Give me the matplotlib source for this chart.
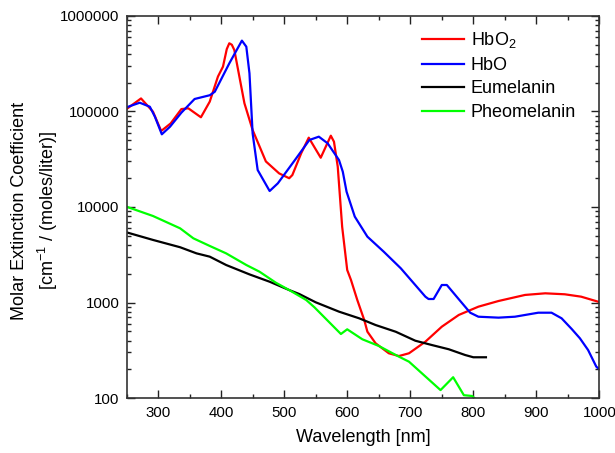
import numpy as np
import matplotlib
matplotlib.use('Agg')
import matplotlib.pyplot as plt
from matplotlib.ticker import FixedLocator, LogLocator, FuncFormatter, NullFormatter

plt.rcParams['font.family'] = ['Liberation Sans', 'DejaVu Sans']
plt.rcParams['mathtext.fontset'] = 'custom'
plt.rcParams['mathtext.rm'] = 'Liberation Sans'
plt.rcParams['mathtext.it'] = 'Liberation Sans'

# HbO2 (oxyhemoglobin)
hbo2_wl = [250, 273, 292, 305, 320, 337, 348, 368, 382, 395, 403, 409, 413, 417, 421, 437, 450,
           471, 492, 508, 513, 527, 539, 558, 574, 579, 585, 592, 600, 606, 616, 627,
           632, 645, 666, 682, 698, 724, 750, 777, 808, 840, 882, 914, 945, 971, 1000]
hbo2_val = [106000, 137000, 99500, 62500, 75000, 106000, 108000, 87000, 126800, 232000,
            295000, 450000, 518000, 500000, 440000, 122000, 64000, 30000, 22500, 20000, 21600, 36500,
            53200, 32800, 55800, 48300, 26400, 6200, 2190, 1720, 1062, 656,
            495, 374, 294, 275, 294, 389, 558, 741, 904, 1037, 1200, 1248, 1219, 1151, 1010]

# HbO (deoxyhemoglobin)
hbo_wl = [250, 271, 287, 295, 306, 319, 337, 358, 382, 390, 413, 433, 440, 445, 450,
          458, 477, 490, 519, 540, 555, 569, 587, 593, 599, 612, 632, 658, 685, 724,
          729, 737, 750, 758, 777, 795, 808, 840, 866, 903, 924, 940, 956, 969, 982, 995, 1000]
hbo_val = [110600, 123600, 112200, 88300, 57700, 69300, 97200, 135200, 148000, 161000,
           319000, 552000, 477000, 251000, 59000, 24400, 14700, 17700, 32300, 50300,
           54500, 46400, 31000, 23400, 14450, 7930, 4890, 3400, 2280, 1150,
           1088, 1088, 1525, 1525, 1081, 782, 710, 694, 710, 782, 782, 683, 528, 422, 318, 213, 200]

# Eumelanin
eu_wl = [250, 292, 335, 361, 382, 408, 445, 477, 508, 524, 550, 587, 619, 645, 677,
         708, 734, 761, 787, 800, 820]
eu_val = [5430, 4520, 3790, 3270, 3020, 2470, 1970, 1650, 1350, 1227, 1005, 802, 683,
          581, 494, 398, 359, 324, 282, 267, 267]

# Pheomelanin
pheo_wl = [250, 292, 335, 356, 382, 408, 440, 461, 487, 508, 535, 548, 590, 600, 624,
           650, 682, 698, 748, 768, 785, 798, 803]
pheo_val = [10070, 8050, 5980, 4700, 3910, 3270, 2470, 2100, 1610, 1350, 1062, 891,
            468, 524, 412, 351, 271, 240, 121, 165, 107, 105, 98]

fig = plt.figure(figsize=(6.15, 4.53), dpi=100)
ax = fig.add_axes([0.2057, 0.1214, 0.769, 0.8433])

lw = 1.6
ax.plot(hbo2_wl, hbo2_val, color='#ff0000', lw=lw, label='HbO$_2$')
ax.plot(hbo_wl, hbo_val, color='#0000ff', lw=lw, label='HbO')
ax.plot(eu_wl, eu_val, color='black', lw=lw, label='Eumelanin')
ax.plot(pheo_wl, pheo_val, color='#00ff00', lw=lw, label='Pheomelanin')

ax.set_yscale('log')
ax.set_xlim(250, 1000)
ax.set_ylim(100, 1000000)

ax.xaxis.set_major_locator(FixedLocator([300, 400, 500, 600, 700, 800, 900, 1000]))
ax.xaxis.set_minor_locator(FixedLocator(np.arange(250, 1001, 50)))
ax.yaxis.set_major_locator(LogLocator(base=10))
ax.yaxis.set_minor_locator(LogLocator(base=10, subs=np.arange(2, 10)))
ax.yaxis.set_major_formatter(FuncFormatter(lambda v, p: '%d' % round(v)))
ax.yaxis.set_minor_formatter(NullFormatter())

ax.tick_params(which='both', direction='in', top=True, right=True, labelsize=10.8,
               colors='#222222', labelcolor='black')
ax.tick_params(which='major', length=5.8, width=1)
ax.tick_params(which='minor', length=2.9, width=1)
ax.tick_params(axis='x', pad=6)
ax.tick_params(axis='y', pad=5)
for s in ax.spines.values():
    s.set_linewidth(1.2)
    s.set_color('#333333')

ax.set_xlabel('Wavelength [nm]', fontsize=13, labelpad=6)
ax.set_ylabel('Molar Extinction Coefficient\n[cm$^{-1}$ / (moles/liter)]', fontsize=13,
              linespacing=1.4)
ax.yaxis.set_label_coords(-0.141, 0.49)

ax.legend(loc='upper right', bbox_to_anchor=(0.985, 1.005), frameon=False, fontsize=13,
          handlelength=2.3, handletextpad=0.4, labelspacing=0.36)

fig.savefig('out.png', dpi=100)
